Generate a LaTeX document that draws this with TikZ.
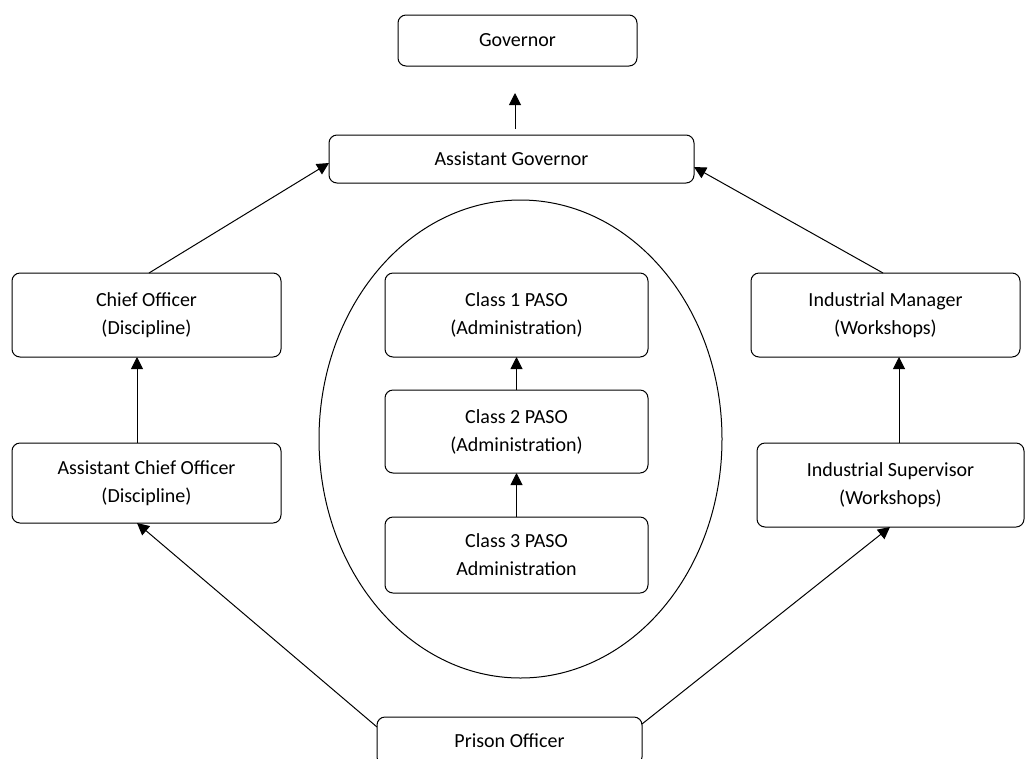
\documentclass[tikz,border=0pt]{standalone}
\usepackage{fontspec}
\setmainfont{Carlito}
\usetikzlibrary{arrows.meta,shapes.geometric}
\begin{document}
\begin{tikzpicture}[x=0.75pt,y=-0.75pt,
  box/.style={draw, rounded corners=6pt, line width=0.75pt, inner sep=0pt, outer sep=0pt,
    align=center, font=\fontsize{15}{21}\selectfont},
  arr/.style={line width=0.75pt, -{Triangle[length=9pt,width=9pt]}}]
\useasboundingbox (0,0) rectangle (1025,758);
\clip (0,0) rectangle (1025,758);
\node[draw, ellipse, line width=0.75pt, minimum width=403*0.75pt, minimum height=478*0.75pt] (grp) at (520.5,439) {};
\node[box, minimum width=239*0.75pt, minimum height=51*0.75pt] (gov) at (517.5,40.5) {Governor};
\node[box, minimum width=365*0.75pt, minimum height=48*0.75pt] (ag) at (511.5,159) {Assistant Governor};
\node[box, minimum width=269*0.75pt, minimum height=84*0.75pt] (co) at (146.5,315) {Chief Officer\\(Discipline)};
\node[box, minimum width=269*0.75pt, minimum height=80*0.75pt] (aco) at (146.5,483) {Assistant Chief Officer\\(Discipline)};
\node[box, minimum width=269*0.75pt, minimum height=84*0.75pt] (im) at (885.5,315) {Industrial Manager\\(Workshops)};
\node[box, minimum width=267*0.75pt, minimum height=84*0.75pt] (is) at (890.5,485) {Industrial Supervisor\\(Workshops)};
\node[box, minimum width=263*0.75pt, minimum height=84*0.75pt] (c1) at (516.5,315) {Class 1 PASO\\(Administration)};
\node[box, minimum width=263*0.75pt, minimum height=83*0.75pt] (c2) at (516.5,431.5) {Class 2 PASO\\(Administration)};
\node[box, minimum width=263*0.75pt, minimum height=76*0.75pt] (c3) at (516.5,555) {Class 3 PASO\\Administration};
\node[box, minimum width=265*0.75pt, minimum height=48*0.75pt] (po) at (509.5,741) {Prison Officer};
\coordinate (g1) at (515,129);
\coordinate (g2) at (515,93);
\draw[arr] (g1) -- (g2);
\draw[arr] ([xshift=-7.125pt]aco.north) -- ([xshift=-7.125pt]co.south);
\draw[arr] ([xshift=6.375pt]is.north) -- ([xshift=10.125pt]im.south);
\draw[arr] (c2.north) -- (c1.south);
\draw[arr] (c3.north) -- (c2.south);
\draw[arr] ([xshift=1.875pt]co.north) -- ([yshift=-3pt]ag.west);
\draw[arr] ([xshift=-1.875pt]im.north) -- ([yshift=-6pt]ag.east);
\draw[arr] ([yshift=10.5pt]po.west) -- ([xshift=-7.125pt]aco.south);
\draw[arr] ([yshift=12.75pt]po.east) -- ([xshift=-0.375pt]is.south);
\end{tikzpicture}
\end{document}
